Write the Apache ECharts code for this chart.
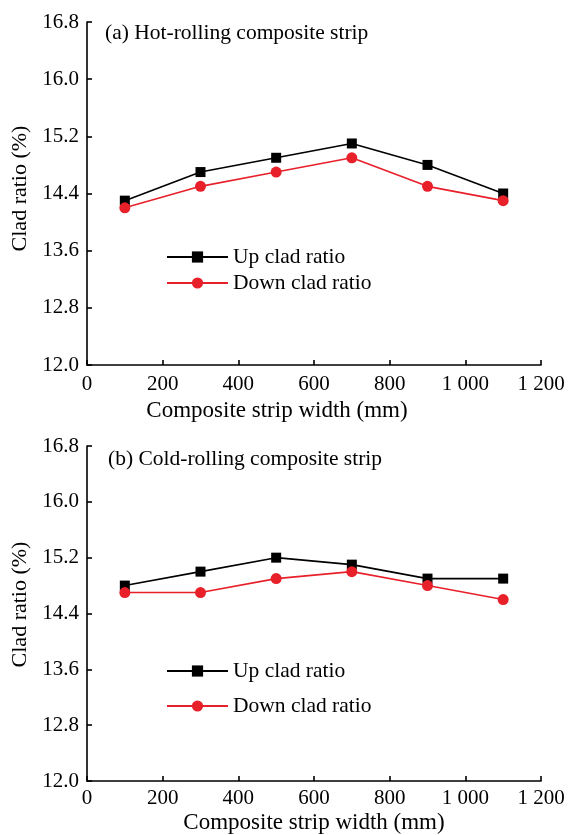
<!DOCTYPE html>
<html>
<head>
<meta charset="utf-8">
<script src="https://cdn.jsdelivr.net/npm/echarts@6/dist/echarts.min.js"></script>
<style>
html,body{margin:0;padding:0;background:#fff;}
#chart{width:571px;height:835px;}
</style>
</head>
<body>
<div id="chart"></div>
<script>
// ---- data ----
const widths = [100, 300, 500, 700, 900, 1100];
const hotUp = [14.3, 14.7, 14.9, 15.1, 14.8, 14.4];
const hotDown = [14.2, 14.5, 14.7, 14.9, 14.5, 14.3];
const coldUp = [14.8, 15.0, 15.2, 15.1, 14.9, 14.9];
const coldDown = [14.7, 14.7, 14.9, 15.0, 14.8, 14.6];
const panelTitles = ['(a) Hot-rolling composite strip', '(b) Cold-rolling composite strip'];
const seriesNames = ['Up clad ratio', 'Down clad ratio'];
const xName = 'Composite strip width (mm)';
const yName = 'Clad ratio (%)';

const FONT = '"Liberation Serif", "DejaVu Serif", serif';
const RED = '#e8202a';

function pair(xs, ys) { return xs.map((x, i) => [x, ys[i]]); }

function xAxis(idx, labelMargin, nameGap, namePad) {
  return {
    type: 'value', gridIndex: idx, min: 0, max: 1200, interval: 200,
    name: xName, nameLocation: 'middle', nameGap: nameGap,
    nameTextStyle: { fontFamily: FONT, fontSize: 23, color: '#000', padding: namePad },
    axisLine: { show: true, lineStyle: { color: '#000', width: 1.6 } },
    axisTick: { show: true, inside: true, length: 5, lineStyle: { color: '#000', width: 1.6 } },
    axisLabel: {
      fontFamily: FONT, fontSize: 21, color: '#000', margin: labelMargin,
      formatter: v => v >= 1000 ? String(v).replace(/(\d)(\d{3})$/, '$1 $2') : String(v)
    },
    splitLine: { show: false }
  };
}
function yAxis(idx, namePad) {
  return {
    type: 'value', gridIndex: idx, min: 12, max: 16.8, interval: 0.8,
    name: yName, nameLocation: 'middle', nameGap: 56, nameRotate: 90,
    nameTextStyle: { fontFamily: FONT, fontSize: 22, color: '#000', padding: namePad },
    axisLine: { show: true, lineStyle: { color: '#000', width: 1.6 } },
    axisTick: { show: true, inside: true, length: 5, lineStyle: { color: '#000', width: 1.6 } },
    axisLabel: { fontFamily: FONT, fontSize: 21, color: '#000', margin: 8, formatter: v => v.toFixed(1) },
    splitLine: { show: false }
  };
}
function series(name, idx, data, color, symbol, size) {
  return {
    name: name, type: 'line', xAxisIndex: idx, yAxisIndex: idx,
    data: data, symbol: symbol, symbolSize: size, showSymbol: true,
    lineStyle: { color: color, width: 1.6 },
    itemStyle: { color: color },
    animation: false
  };
}
function legend(name, left, top) {
  return {
    data: [name], left: left, top: top, orient: 'vertical',
    itemWidth: 61, itemHeight: 14, padding: 0,
    textStyle: { fontFamily: FONT, fontSize: 21.5, color: '#000', lineHeight: 22 },
    selectedMode: false
  };
}

const chart = echarts.init(document.getElementById('chart'), null, { renderer: 'canvas' });
chart.setOption({
  backgroundColor: '#fff',
  animation: false,
  title: [
    { text: panelTitles[0], left: 105, top: 22, padding: 0,
      textStyle: { fontFamily: FONT, fontSize: 21.5, fontWeight: 'normal', color: '#000' } },
    { text: panelTitles[1], left: 108, top: 448, padding: 0,
      textStyle: { fontFamily: FONT, fontSize: 21.5, fontWeight: 'normal', color: '#000' } }
  ],
  legend: [
    legend(seriesNames[0], 166, 246),
    legend(seriesNames[1], 166, 272),
    legend(seriesNames[0], 166, 660),
    legend(seriesNames[1], 166, 695)
  ],
  grid: [
    { left: 87, right: 30, top: 22, height: 343 },
    { left: 87, right: 30, top: 446, height: 335 }
  ],
  xAxis: [xAxis(0, 9, 34, [0, 74, 0, 0]), xAxis(1, 7, 30, 0)],
  yAxis: [yAxis(0, [0, 0, 0, 10]), yAxis(1, [0, 0, 0, 18])],
  series: [
    series(seriesNames[0], 0, pair(widths, hotUp), '#000', 'rect', 10),
    series(seriesNames[1], 0, pair(widths, hotDown), RED, 'circle', 11),
    series(seriesNames[0], 1, pair(widths, coldUp), '#000', 'rect', 10),
    series(seriesNames[1], 1, pair(widths, coldDown), RED, 'circle', 11)
  ]
});
</script>
</body>
</html>
